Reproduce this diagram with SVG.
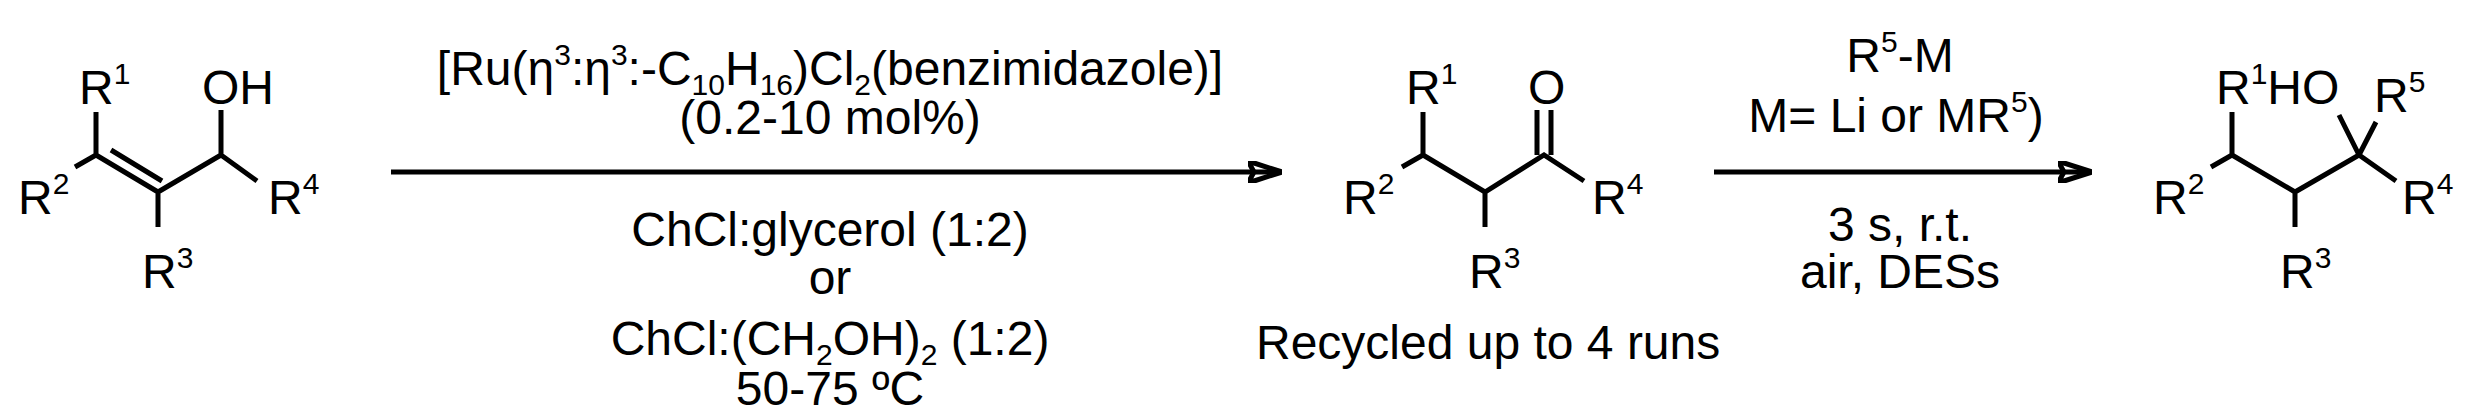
<svg xmlns="http://www.w3.org/2000/svg" width="2480" height="420" viewBox="0 0 2480 420">
<style>
text{font-family:"Liberation Sans",Arial,sans-serif;font-size:48px;fill:#000}
.s{font-size:30px}
.c{text-anchor:middle}
line,path{stroke:#000;stroke-width:5;fill:none}
</style>
<defs><marker id="ah" markerWidth="34" markerHeight="22" refX="32" refY="11" orient="auto" markerUnits="userSpaceOnUse" viewBox="0 0 34 22"><path d="M0,0L34,11L0,22L6,11z" fill="#000" stroke="none"/></marker></defs>
<rect width="2480" height="420" fill="#fff"/>
<g id="reactant">
<path d="M96,112V155L158,192L221,155V110M96,155L75,167M221,155L257,181M158,192V227M111,150L162,181"/>
<text x="79" y="104">R<tspan class="s" dy="-20">1</tspan></text>
<text x="202" y="104">OH</text>
<text x="18" y="214">R<tspan class="s" dy="-20">2</tspan></text>
<text x="268" y="214">R<tspan class="s" dy="-20">4</tspan></text>
<text x="142" y="288">R<tspan class="s" dy="-20">3</tspan></text>
</g>
<g id="ketone">
<path d="M1423,112V155L1485,192L1544,155L1584,181M1423,155L1402,167M1485,192V227M1537,155V110M1551,155V110"/>
<text x="1406" y="104">R<tspan class="s" dy="-20">1</tspan></text>
<text x="1528" y="104">O</text>
<text x="1343" y="214">R<tspan class="s" dy="-20">2</tspan></text>
<text x="1592" y="214">R<tspan class="s" dy="-20">4</tspan></text>
<text x="1469" y="288">R<tspan class="s" dy="-20">3</tspan></text>
<text x="1256" y="359">Recycled up to 4 runs</text>
</g>
<g id="alcohol">
<path d="M2232,112V155L2295,192L2359,155L2396,181M2232,155L2211,167M2295,192V227M2359,155L2339,115M2359,155L2376,122"/>
<text x="2216" y="104">R<tspan class="s" dy="-20">1</tspan><tspan dy="20">HO</tspan></text>
<text x="2374" y="112">R<tspan class="s" dy="-20">5</tspan></text>
<text x="2153" y="214">R<tspan class="s" dy="-20">2</tspan></text>
<text x="2402" y="214">R<tspan class="s" dy="-20">4</tspan></text>
<text x="2280" y="288">R<tspan class="s" dy="-20">3</tspan></text>
</g>
<g id="connectors">
<line x1="391" y1="172" x2="1280" y2="172" marker-end="url(#ah)"/>
<line x1="1714" y1="172" x2="2090" y2="172" marker-end="url(#ah)"/>
</g>
<g id="conditions1">
<text class="c" x="830" y="85">[Ru(η<tspan class="s" dy="-20">3</tspan><tspan dy="20">:η</tspan><tspan class="s" dy="-20">3</tspan><tspan dy="20">:-C</tspan><tspan class="s" dy="10">10</tspan><tspan dy="-10">H</tspan><tspan class="s" dy="10">16</tspan><tspan dy="-10">)Cl</tspan><tspan class="s" dy="10">2</tspan><tspan dy="-10">(benzimidazole)]</tspan></text>
<text class="c" x="830" y="134">(0.2-10 mol%)</text>
<text class="c" x="830" y="246">ChCl:glycerol (1:2)</text>
<text class="c" x="830" y="294">or</text>
<text class="c" x="830" y="355">ChCl:(CH<tspan class="s" dy="10">2</tspan><tspan dy="-10">OH)</tspan><tspan class="s" dy="10">2</tspan><tspan dy="-10"> (1:2)</tspan></text>
<text class="c" x="830" y="405">50-75 ºC</text>
</g>
<g id="conditions2">
<text class="c" x="1900" y="72">R<tspan class="s" dy="-20">5</tspan><tspan dy="20">-M</tspan></text>
<text class="c" x="1896" y="132">M= Li or MR<tspan class="s" dy="-20">5</tspan><tspan dy="20">)</tspan></text>
<text class="c" x="1900" y="241">3 s, r.t.</text>
<text class="c" x="1900" y="288">air, DESs</text>
</g>
</svg>
